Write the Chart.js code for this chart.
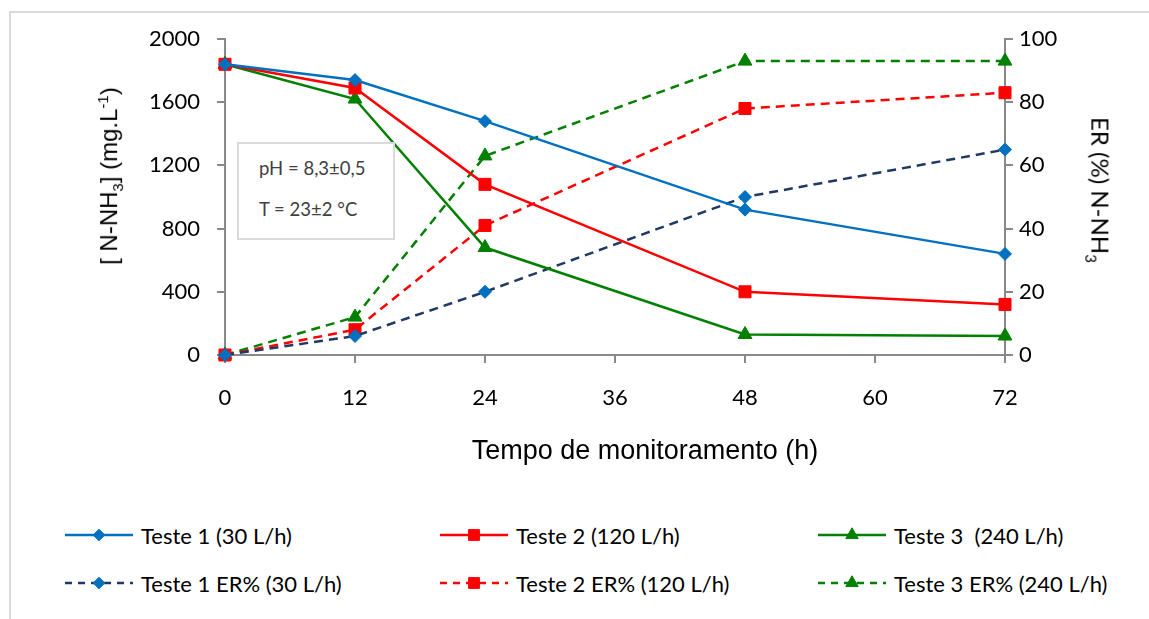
<!DOCTYPE html>
<html>
<head>
<meta charset="utf-8">
<script src="https://cdn.jsdelivr.net/npm/chart.js@4.4.1/dist/chart.umd.min.js"></script>
<style>
  body { margin: 0; background: #fff; width: 1149px; height: 619px; overflow: hidden; position: relative;
         font-family: 'Liberation Sans', Arial, sans-serif; }
  #frame { position: absolute; left: 9px; top: 11px; width: 1200px; height: 700px;
           border-left: 2px solid #d9d9d9; border-top: 2px solid #d9d9d9; box-sizing: border-box; }
  #plot { position: absolute; left: 0; top: 0; }
  .title { position: absolute; color: #000; white-space: nowrap; line-height: 1; }
  #xTitle { left: 0; width: 1290px; top: 437px; text-align: center; font-size: 27px;
            font-family: 'Liberation Sans', Arial, sans-serif; }
  #yTitle { left: 110px; top: 176px; transform: translate(-50%, -50%) rotate(-90deg); font-size: 24px;
            font-family: 'Liberation Sans', Arial, sans-serif; }
  #yTitle sub, #yTitle sup { font-size: 15px; }
  #y1Title { left: 1098px; top: 190px; transform: translate(-50%, -50%) rotate(90deg);
             font-family: Lato, 'Liberation Sans', sans-serif; font-size: 24px; }
  #y1Title sub { font-size: 15px; }
  #note { position: absolute; left: 237px; top: 142px; width: 158px; height: 98px; box-sizing: border-box;
          border: 2px solid #d9d9d9; background: #fff; color: #404040; font-size: 18.5px;
          font-family: Lato, 'Liberation Sans', sans-serif; }
  #note div { position: absolute; left: 20px; }
  .leg { position: absolute; height: 24px; display: flex; align-items: center;
         font-family: Lato, 'Liberation Sans', sans-serif;
         font-size: 22px; color: #000; white-space: pre; }
  .leg canvas { margin-right: 8px; }
</style>
</head>
<body>
<div id="frame"></div>
<canvas id="plot" width="1149" height="480"></canvas>
<div class="title" id="xTitle">Tempo de monitoramento (h)</div>
<div class="title" id="yTitle">[ N-NH<sub>3</sub>] (mg.L<sup>-1</sup>)</div>
<div class="title" id="y1Title">ER (%) N-NH<sub>3</sub></div>
<div id="note"><div style="top:13px">pH = 8,3±0,5</div><div style="top:54px">T = 23±2 °C</div></div>
<div id="legend"></div>
<script>
// Sampling times (h)
const hours = [0, 12, 24, 48, 72];

// N-NH3 concentration (mg/L)
const teste1 = [1840, 1740, 1480, 920, 640];
const teste2 = [1840, 1690, 1080, 400, 320];
const teste3 = [1840, 1620, 680, 130, 120];

// Removal efficiency ER (%)
const teste1ER = [0, 6, 20, 50, 65];
const teste2ER = [0, 8, 41, 78, 83];
const teste3ER = [0, 12, 63, 93, 93];

// Axis ticks
const xTicks = [0, 12, 24, 36, 48, 60, 72];
const yTicks = [0, 400, 800, 1200, 1600, 2000];
const y1Ticks = [0, 20, 40, 60, 80, 100];

const seriesNames = ['Teste 1 (30 L/h)', 'Teste 2 (120 L/h)', 'Teste 3  (240 L/h)',
                     'Teste 1 ER% (30 L/h)', 'Teste 2 ER% (120 L/h)', 'Teste 3 ER% (240 L/h)'];

const BLUE = '#0070c0', NAVY = '#1f3864', RED = '#ff0000', GREEN = '#008000';
const DASH = [9, 6];

const toXY = vals => vals.map((v, i) => ({ x: hours[i], y: v }));

function series(label, vals, axis, line, marker, style, radius, dashed) {
  return {
    label, data: toXY(vals), yAxisID: axis,
    borderColor: line, backgroundColor: marker,
    pointBackgroundColor: marker, pointBorderColor: marker,
    pointStyle: style, pointRadius: radius, pointHoverRadius: radius, pointBorderWidth: 1,
    borderWidth: 2.5, borderDash: dashed ? DASH : [], tension: 0, clip: false, fill: false
  };
}

const datasets = [
  series(seriesNames[0], teste1, 'y', BLUE, BLUE, 'rectRot', 6.5, false),
  series(seriesNames[1], teste2, 'y', RED, RED, 'rect', 8.5, false),
  series(seriesNames[2], teste3, 'y', GREEN, GREEN, 'triangle', 8, false),
  series(seriesNames[3], teste1ER, 'y1', NAVY, BLUE, 'rectRot', 6.5, true),
  series(seriesNames[4], teste2ER, 'y1', RED, RED, 'rect', 8.5, true),
  series(seriesNames[5], teste3ER, 'y1', GREEN, GREEN, 'triangle', 8, true)
];

const AXIS_GRAY = '#898989';
const tickFont = { family: "Lato, 'Liberation Sans', sans-serif", size: 22 };
const plain = v => String(v);

function fixedTicks(list) {
  return scale => { scale.ticks = list.map(v => ({ value: v })); };
}

const chart = new Chart(document.getElementById('plot'), {
  type: 'line',
  data: { datasets },
  options: {
    responsive: false,
    animation: false,
    events: [],
    layout: { padding: { top: 39, left: 0, right: 0, bottom: 0 } },
    plugins: { legend: { display: false }, tooltip: { enabled: false } },
    scales: {
      x: {
        type: 'linear', min: 0, max: 72,
        afterFit: s => { s.height = 125; },
        afterBuildTicks: fixedTicks(xTicks),
        grid: { drawOnChartArea: false, drawTicks: true, tickLength: 8, color: AXIS_GRAY, lineWidth: 2 },
        border: { color: AXIS_GRAY, width: 2 },
        ticks: { color: '#000', font: tickFont, padding: 22, maxRotation: 0, callback: plain }
      },
      y: {
        position: 'left', min: 0, max: 2000,
        afterFit: s => { s.width = 225; },
        afterBuildTicks: fixedTicks(yTicks),
        grid: { drawOnChartArea: false, drawTicks: true, tickLength: 8, color: AXIS_GRAY, lineWidth: 2 },
        border: { color: AXIS_GRAY, width: 2 },
        ticks: { color: '#000', font: tickFont, padding: 17, callback: plain }
      },
      y1: {
        position: 'right', min: 0, max: 100,
        afterFit: s => { s.width = 144; },
        afterBuildTicks: fixedTicks(y1Ticks),
        grid: { drawOnChartArea: false, drawTicks: true, tickLength: 8, color: AXIS_GRAY, lineWidth: 2 },
        border: { color: AXIS_GRAY, width: 2 },
        ticks: { color: '#000', font: tickFont, padding: 6, callback: plain }
      }
    }
  }
});

// Legend: two rows of three entries, each with a line sample and its marker
const legendCols = [65, 440, 818];
const legendRows = [523, 571];
const legendEl = document.getElementById('legend');
chart.data.datasets.forEach((ds, i) => {
  const item = document.createElement('div');
  item.className = 'leg';
  item.style.left = legendCols[i % 3] + 'px';
  item.style.top = legendRows[Math.floor(i / 3)] + 'px';
  const c = document.createElement('canvas');
  c.width = 68; c.height = 24;
  const ctx = c.getContext('2d');
  ctx.strokeStyle = ds.borderColor;
  ctx.lineWidth = ds.borderWidth;
  ctx.setLineDash(ds.borderDash.length ? [7, 6] : []);
  ctx.beginPath(); ctx.moveTo(0, 12); ctx.lineTo(68, 12); ctx.stroke();
  ctx.setLineDash([]);
  ctx.fillStyle = ds.pointBackgroundColor;
  ctx.strokeStyle = ds.pointBorderColor;
  ctx.lineWidth = 1;
  Chart.helpers.drawPoint(ctx, { pointStyle: ds.pointStyle, radius: ds.pointRadius * 0.9, rotation: 0, borderWidth: 1 }, 34, 12);
  item.appendChild(c);
  const t = document.createElement('span');
  t.textContent = ds.label;
  item.appendChild(t);
  legendEl.appendChild(item);
});
</script>
</body>
</html>
